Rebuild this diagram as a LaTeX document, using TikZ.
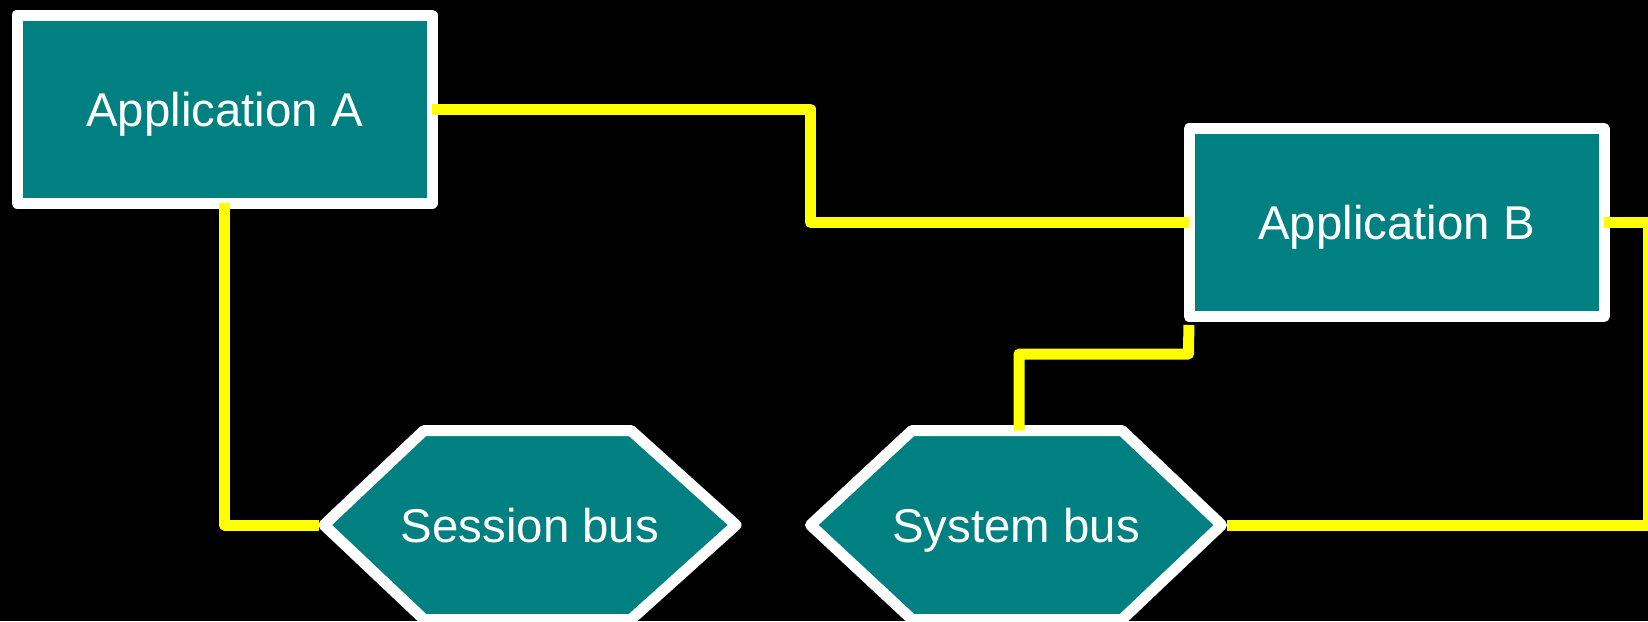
\documentclass[tikz,border=0pt]{standalone}
\usepackage{fontspec}
\setmainfont{Liberation Sans}
\definecolor{teal}{RGB}{0,128,128}
\definecolor{wire}{RGB}{255,255,0}
\tikzset{
  appbox/.style={draw=white, fill=teal, line width=5.5pt, line join=round,
    minimum width=207.5pt, minimum height=94pt, inner sep=0pt, outer sep=0pt,
    text=white, font=\fontsize{23.7}{28}\selectfont, text height=17pt, text depth=0pt},
  buslabel/.style={inner sep=0pt, outer sep=0pt, text=white,
    font=\fontsize{23.7}{28}\selectfont, text height=17pt, text depth=0pt},
  busshape/.style={draw=white, fill=teal, line width=5.5pt, line join=round},
  wireline/.style={draw=wire, line width=5.5pt, line join=round}
}
\begin{document}
\begin{tikzpicture}[x=0.5pt, y=-0.5pt]
\fill[black] (0,0) rectangle (1648,621);
\useasboundingbox (0,0) rectangle (1648,621);
% application boxes
\node[appbox] (appA) at (224.5,109) {Application A};
\node[appbox] (appB) at (1396.5,222.5) {Application B};
% session bus hexagon
\path[busshape] (324,525) -- (424,430.5) -- (631,430.5) -- (736,525) -- (631,619.5) -- (424,619.5) -- cycle;
\node[buslabel] (session) at (530,525) {Session bus};
\coordinate (sesW) at (318.5,525);
% system bus hexagon
\path[busshape] (810.5,525) -- (912,430.5) -- (1122,430.5) -- (1221.5,525) -- (1122,619.5) -- (912,619.5) -- cycle;
\node[buslabel] (system) at (1016,525) {System bus};
\coordinate (sysN) at (1019,430.5);
\coordinate (sysE) at (1227,525);
% connectors
\draw[wireline] (appA.east) -- (810.5,109) -- (810.5,222.5) -- (appB.west);
\draw[wireline] (appA.south) -- (224.5,525) -- (sesW);
\draw[wireline, shorten <=4.25pt] (appB.south west) -- (1188.5,354) -- (1019,354) -- (sysN);
\draw[wireline] (appB.east) -- (1648,222.5) -- (1648,525) -- (sysE);
\end{tikzpicture}
\end{document}
